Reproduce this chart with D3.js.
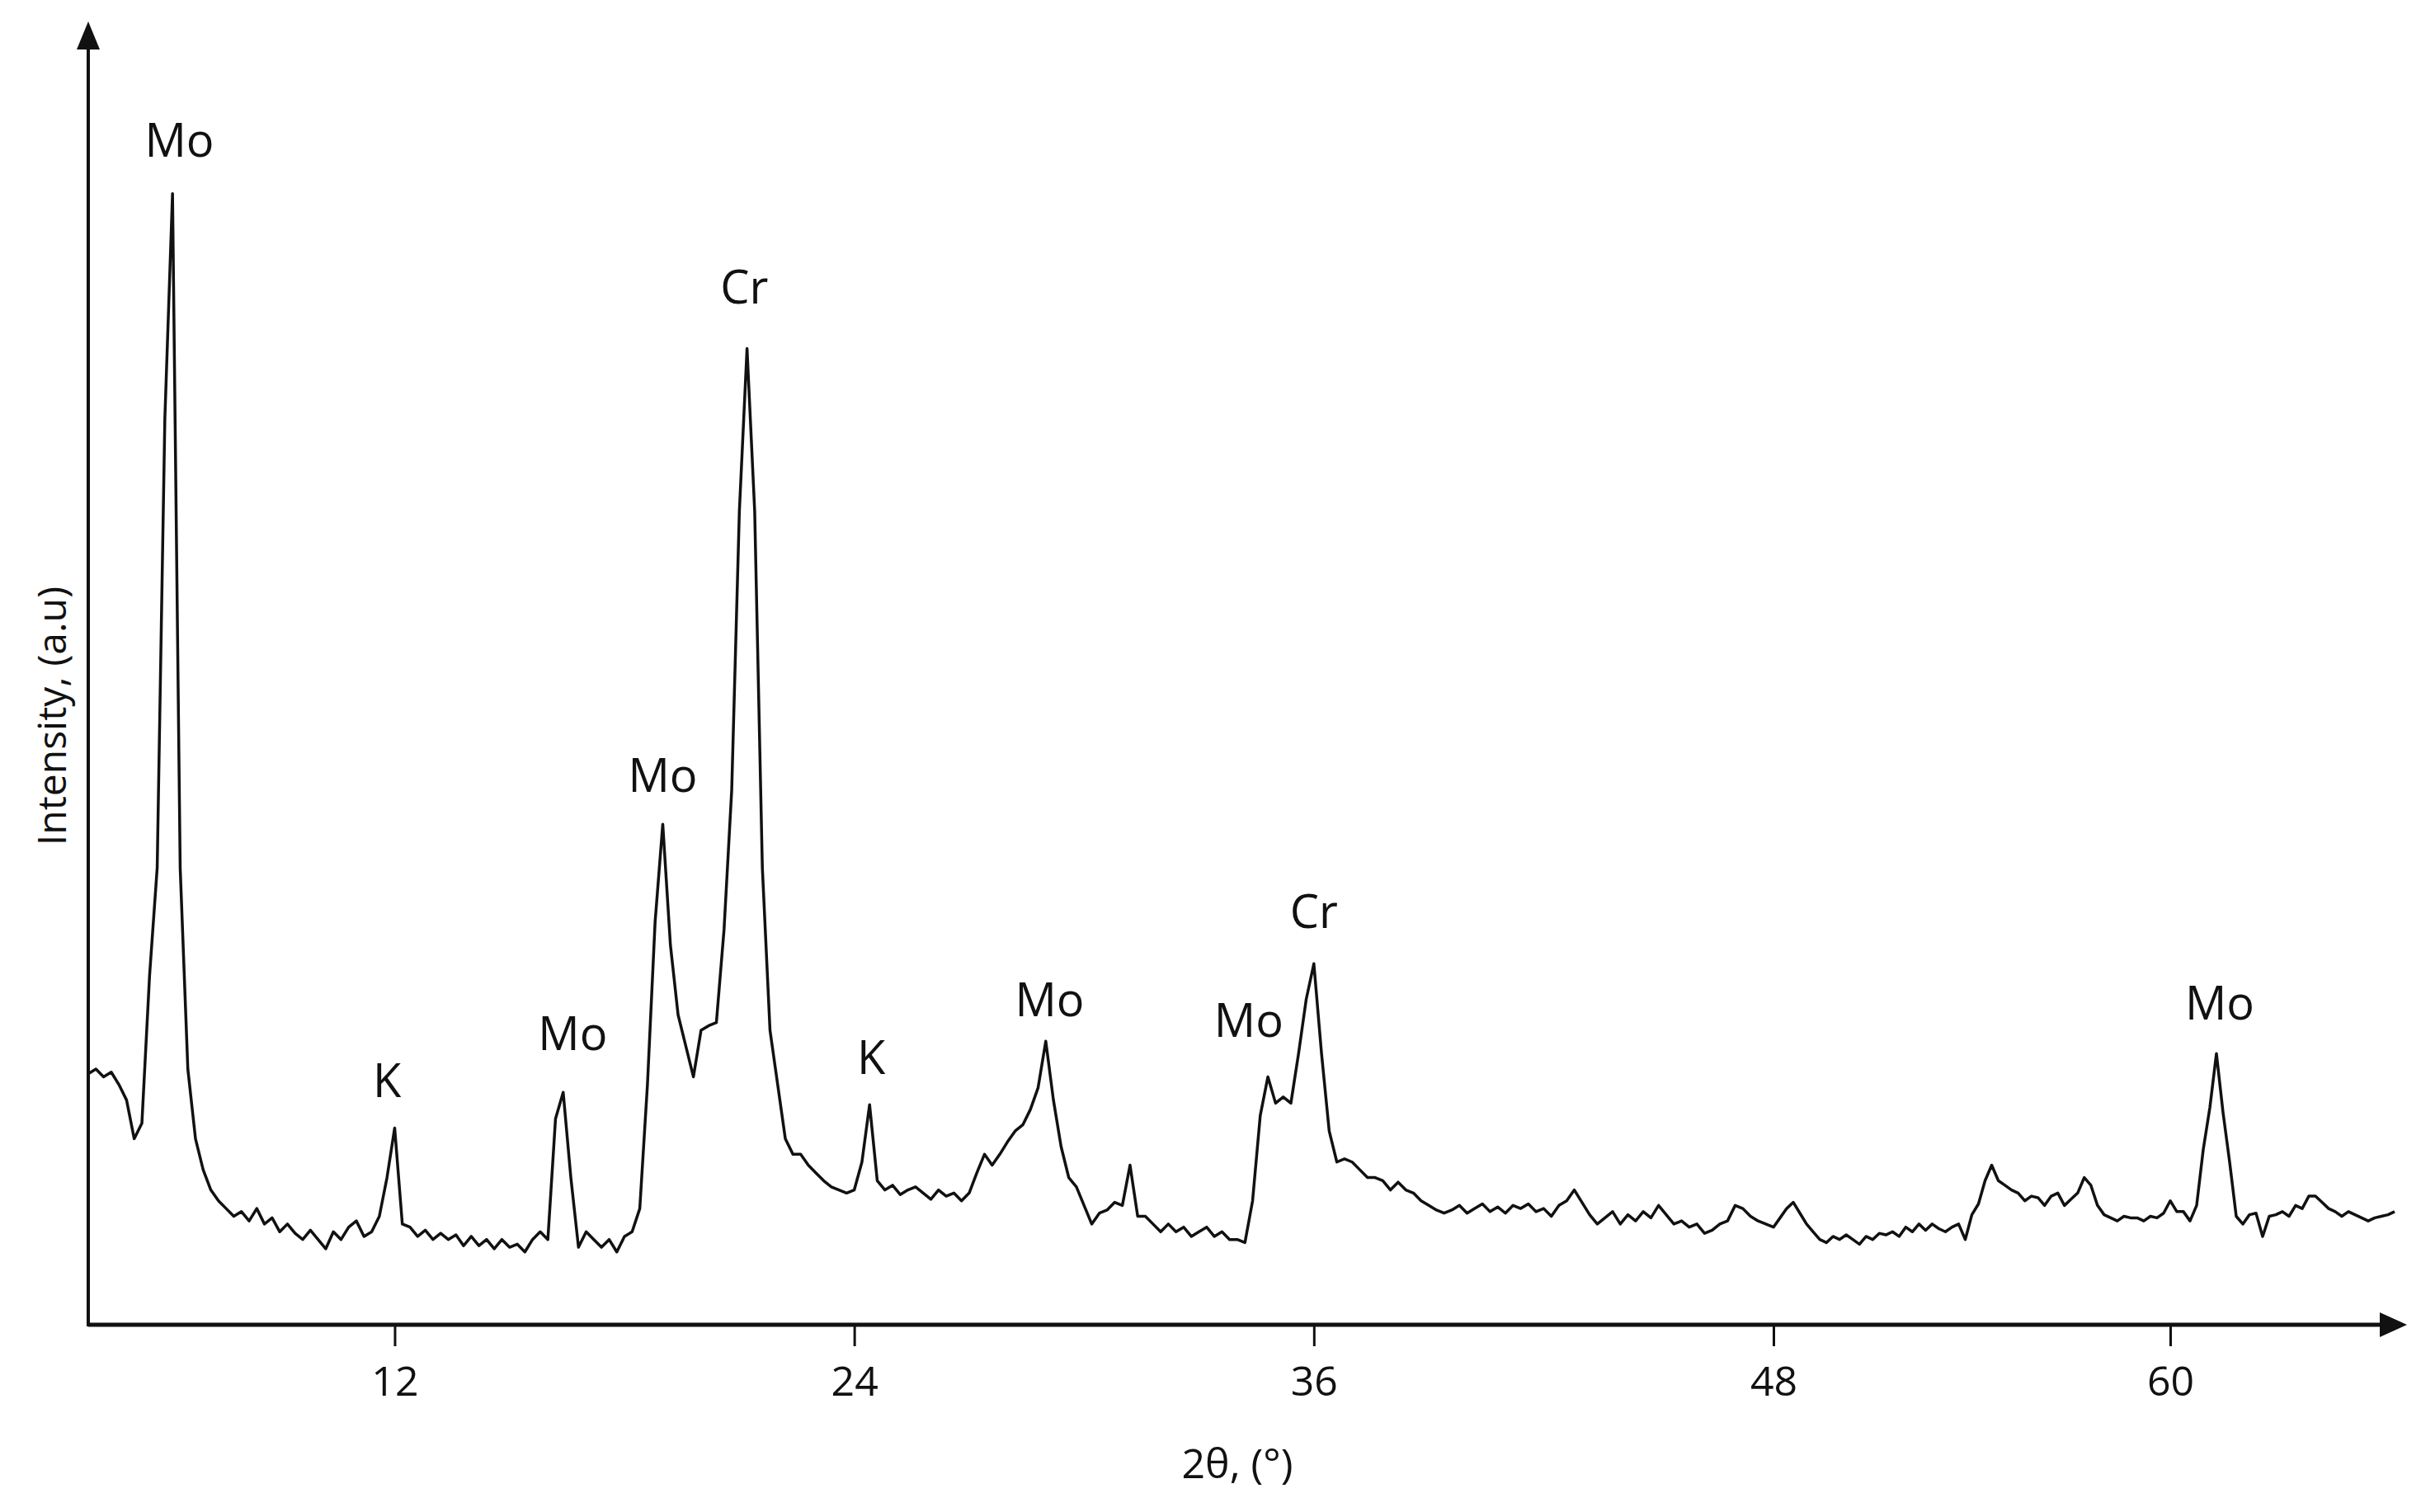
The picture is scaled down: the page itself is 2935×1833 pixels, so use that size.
<!DOCTYPE html>
<html>
<head>
<meta charset="utf-8">
<script src="https://cdn.jsdelivr.net/npm/d3@7"></script>
<style>
  body { margin: 0; background: #fff; }
  text { font-family: "Open Sans", "Noto Sans", sans-serif; fill: #111; }
</style>
</head>
<body>
<div id="chart-area"></div>
<script>
// XRD pattern, 2-theta from 4.0 in steps of 0.2 degrees
var startAngle = 4.0, stepAngle = 0.2;
var counts = [
  162,165,160,163,155,145,120,130,225,295,585,730,295,165,120,100,87,80,75,70,
  73,67,75,65,69,60,65,59,55,61,55,49,60,55,63,67,57,60,70,95,
  127,65,63,57,61,55,59,55,58,51,57,51,55,49,55,50,52,47,55,60,
  55,133,150,95,50,60,55,50,55,47,57,60,75,155,260,323,245,200,180,160,
  190,193,195,255,345,525,630,525,295,190,155,120,110,110,103,98,93,89,87,85,
  87,105,142,93,87,90,84,87,89,85,81,87,83,85,80,85,98,110,103,110,
  118,125,129,139,153,183,145,115,95,89,77,65,72,74,79,77,103,70,70,65,
  60,65,60,63,57,60,63,57,60,55,55,53,80,135,160,143,147,143,175,210,
  233,175,125,105,107,105,100,95,95,93,87,92,87,85,80,77,74,72,74,77,
  72,75,78,73,76,72,77,75,78,73,75,70,77,80,87,79,71,65,69,73,
  65,71,67,73,69,77,71,65,67,63,65,59,61,65,67,77,75,70,67,65,
  63,69,75,79,72,65,60,55,53,57,55,58,55,52,57,55,59,58,60,57,
  63,60,65,61,65,62,60,63,65,55,71,78,93,103,93,90,87,85,80,83,
  82,77,83,85,77,81,85,95,90,77,71,69,67,70,69,69,67,70,69,72,
  80,73,73,67,77,113,140,175,137,105,70,65,71,72,57,70,71,73,70,77,
  75,83,83,79,75,73,70,73,71,69,67,69,70,71,73
];
var tickValues = [12, 24, 36, 48, 60];
var peakNames = ["Mo", "K", "Mo", "Mo", "Cr", "K", "Mo", "Mo", "Cr", "Mo"];
var peakAngles = [6.38, 11.8, 16.65, 19.0, 21.13, 24.44, 29.1, 34.3, 36.0, 61.5];
var peakLabelY = [754, 147, 177, 344, 659, 162, 199, 186, 256, 197];

var data = counts.map(function(c, i) {
  return { angle: startAngle + i * stepAngle, value: c };
});

var width = 2935, height = 1833;
var x0 = 107, y0 = 1606;

var svg = d3.select("#chart-area")
  .append("svg")
    .attr("width", width)
    .attr("height", height);

// the original axis is stretched unevenly after 48 degrees
var xScale = d3.scaleLinear()
  .domain([4, 48, 60, 66.8])
  .range([x0, 2150, 2631, 2903]);
var yScale = d3.scaleLinear()
  .domain([0, 840])
  .range([y0, 28]);

// X axis
var xAxis = d3.axisBottom(xScale)
  .tickValues(tickValues)
  .tickSize(26)
  .tickSizeOuter(0)
  .tickPadding(24);
var gx = svg.append("g")
  .attr("transform", "translate(0," + y0 + ")")
  .call(xAxis);
gx.select(".domain").remove();
gx.selectAll(".tick line").attr("stroke", "#111").attr("stroke-width", 3);
gx.selectAll(".tick text")
  .attr("font-size", "50px")
  .attr("font-family", "Open Sans, sans-serif")
  .attr("fill", "#111");

// axis lines with arrows
svg.append("line")
  .attr("x1", x0).attr("y1", y0).attr("x2", 2895).attr("y2", y0)
  .attr("stroke", "#111").attr("stroke-width", 5);
svg.append("path")
  .attr("d", "M2918," + y0 + " L2885," + (y0 - 15) + " L2885," + (y0 + 15) + " Z")
  .attr("fill", "#111");
svg.append("line")
  .attr("x1", x0).attr("y1", y0 + 2).attr("x2", x0).attr("y2", 50)
  .attr("stroke", "#111").attr("stroke-width", 4);
svg.append("path")
  .attr("d", "M" + x0 + ",26 L" + (x0 - 14) + ",60 L" + (x0 + 14) + ",60 Z")
  .attr("fill", "#111");

// labels
svg.append("text")
  .attr("x", 1500).attr("y", 1792)
  .attr("text-anchor", "middle")
  .attr("font-size", "50px")
  .text("2\u03b8, (\u00b0)");
svg.append("text")
  .attr("transform", "translate(80,868) rotate(-90)")
  .attr("text-anchor", "middle")
  .attr("font-size", "48px")
  .text("Intensity, (a.u)");

// pattern line
var line = d3.line()
  .x(function(d) { return xScale(d.angle); })
  .y(function(d) { return yScale(d.value); });
svg.append("path")
  .datum(data)
  .attr("d", line)
  .attr("fill", "none")
  .attr("stroke", "#111")
  .attr("stroke-width", 3.5)
  .attr("stroke-linejoin", "round");

// peak names
svg.selectAll(".peak")
  .data(peakNames)
  .enter().append("text")
    .attr("class", "peak")
    .attr("x", function(d, i) { return xScale(peakAngles[i]); })
    .attr("y", function(d, i) { return yScale(peakLabelY[i]); })
    .attr("text-anchor", "middle")
    .attr("font-size", "56px")
    .text(function(d) { return d; });
</script>
</body>
</html>
